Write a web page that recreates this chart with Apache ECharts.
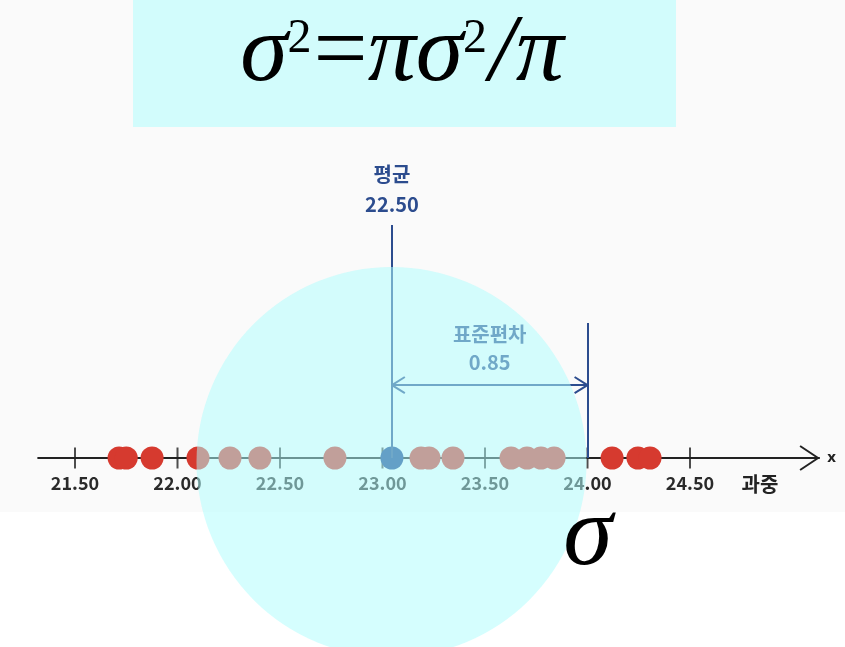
<!DOCTYPE html>
<html>
<head>
<meta charset="utf-8">
<script src="https://cdn.jsdelivr.net/npm/echarts@6.0.0/dist/echarts.min.js"></script>
<style>
html,body{margin:0;padding:0;background:#fff;}
#chart{width:845px;height:647px;}
</style>
</head>
<body>
<div id="chart"></div>
<script>
// number line ticks
var tickValues = [21.5, 22.0, 22.5, 23.0, 23.5, 24.0, 24.5];
var redValues = [21.715, 21.75, 21.876, 22.10, 22.256, 22.402, 22.768, 23.188, 23.227,
                 23.344, 23.627, 23.705, 23.773, 23.837, 24.12, 24.246, 24.305];
var meanValue = 23.046;
var sdValue = 24.0;
var meanText = ['평균', '22.50'];
var sdText = ['표준편차', '0.85'];
var axisName = 'x';
var axisTitle = '과중';

// heights of the guide lines (y units, 3px each)
var meanTop = 77.7;
var sdTop = 45;
var arrowY = 24.3;

var navy = '#2c4c8e';

function chevron(tipX, tipY, dx, dy){
  return [[tipX - dx, tipY + dy], [tipX, tipY], [tipX - dx, tipY - dy]];
}

function loadChart(){
  var chart = echarts.init(document.getElementById('chart'));
  var option = {
    animation: false,
    backgroundColor: '#ffffff',
    grid: { left: 38.1, right: 25.85, top: 158, bottom: 189 },
    xAxis: {
      type: 'value',
      min: 21.32,
      max: 25.13,
      name: axisName,
      nameLocation: 'end',
      nameGap: 8,
      nameTextStyle: { color: '#222', fontSize: 15, fontWeight: 'bold', fontFamily: 'Noto Sans', verticalAlign: 'middle' },
      axisLine: { onZero: false, lineStyle: { color: '#222', width: 2 } },
      axisTick: { show: false },
      splitLine: { show: false },
      axisLabel: {
        customValues: tickValues,
        margin: 16,
        color: '#2a2a2a',
        fontSize: 18,
        fontWeight: 'bold',
        fontFamily: 'Noto Sans CJK KR',
        formatter: function(v){ return v.toFixed(2); }
      }
    },
    yAxis: { type: 'value', min: 0, max: 100, show: false },
    series: [
      {
        // tick marks crossing the line
        type: 'scatter',
        data: tickValues.map(function(v){ return [v, 0]; }),
        symbol: 'rect',
        symbolSize: [2, 21],
        itemStyle: { color: '#222' },
        clip: false,
        silent: true,
        z: 1
      },
      {
        type: 'line',
        data: [],
        markLine: {
          silent: true,
          symbol: 'none',
          lineStyle: { color: navy, width: 2, type: 'solid' },
          data: [
            [
              { coord: [meanValue, 0], label: {
                  show: true, position: 'end', distance: 5,
                  formatter: meanText.join('\n'),
                  color: navy, fontSize: 20, fontWeight: 'bold', lineHeight: 30,
                  fontFamily: 'Noto Sans CJK KR'
                } },
              { coord: [meanValue, meanTop] }
            ],
            [
              { coord: [sdValue, 0], label: { show: false } },
              { coord: [sdValue, sdTop] }
            ],
            [
              { coord: [meanValue, arrowY], label: {
                  show: true, position: 'middle', distance: 9,
                  formatter: sdText.join('\n'),
                  color: navy, fontSize: 20, fontWeight: 'bold', lineHeight: 28,
                  fontFamily: 'Noto Sans CJK KR'
                } },
              { coord: [sdValue, arrowY] }
            ]
          ]
        }
      },
      {
        type: 'line', symbol: 'none', clip: false, silent: true,
        data: chevron(sdValue, arrowY, 0.063, 2.7),
        lineStyle: { color: navy, width: 2 }
      },
      {
        type: 'line', symbol: 'none', clip: false, silent: true,
        data: chevron(meanValue, arrowY, -0.063, 2.7),
        lineStyle: { color: navy, width: 2 }
      },
      {
        type: 'line', symbol: 'none', clip: false, silent: true,
        data: chevron(25.125, 0, 0.088, 4),
        lineStyle: { color: '#222', width: 2 }
      },
      {
        type: 'scatter',
        data: redValues.map(function(v){ return [v, 0]; }),
        symbolSize: 23,
        clip: false,
        itemStyle: { color: '#d63a2f', opacity: 1 },
        z: 3
      },
      {
        type: 'scatter',
        data: [[meanValue, 0]],
        symbolSize: 23,
        clip: false,
        itemStyle: { color: '#143c8c', opacity: 1 },
        z: 4
      }
    ],
    graphic: [
      { type: 'rect', z: -10, shape: { x: 0, y: 0, width: 845, height: 512 }, style: { fill: '#fafafa' } },
      { type: 'rect', z: -5, shape: { x: 133, y: 0, width: 543, height: 127 }, style: { fill: '#d2fcfc' } },
      {
        type: 'text', z: 10, x: 402, y: 5,
        style: {
          text: '{i|σ}{s|2}{o|=}{i|πσ}{s|2}{i|/π}',
          align: 'center',
          verticalAlign: 'top',
          fill: '#000',
          rich: {
            i: { fontFamily: 'Liberation Serif', fontStyle: 'italic', fontSize: 96, lineHeight: 100, verticalAlign: 'middle', color: '#000' },
            o: { fontFamily: 'Liberation Serif', fontSize: 96, lineHeight: 100, verticalAlign: 'middle', color: '#000' },
            s: { fontFamily: 'Liberation Serif', fontSize: 48, lineHeight: 58, verticalAlign: 'top', padding: [10, 2, 0, 0], color: '#000' }
          }
        }
      },
      {
        type: 'text', z: 10, x: 760, y: 484,
        style: { text: axisTitle, align: 'center', verticalAlign: 'middle', fill: '#222',
                 font: 'bold 20px "Noto Sans CJK KR"' }
      },
      {
        type: 'circle', z: 100, silent: true,
        shape: { cx: 391.5, cy: 462, r: 195 },
        style: { fill: 'rgba(175,254,254,0.52)' }
      },
      {
        type: 'text', z: 110, x: 588, y: 538,
        style: { text: 'σ', align: 'center', verticalAlign: 'middle', fill: '#000',
                 font: 'italic 100px "Liberation Serif"' }
      }
    ]
  };
  chart.setOption(option);
}

loadChart();
</script>
</body>
</html>
